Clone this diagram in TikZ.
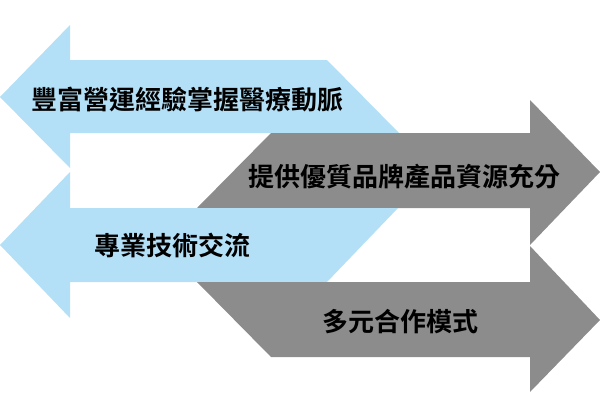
\documentclass[tikz,border=0pt]{standalone}
\usepackage{fontspec}
\newfontfamily\cjk{Noto Sans CJK TC}[BoldFont={Noto Sans CJK TC Bold}]
\definecolor{lblue}{HTML}{B3E0F7}
\definecolor{dgray}{HTML}{8C8C8C}
\begin{document}
\begin{tikzpicture}[x=1pt,y=-1pt,
  lab/.style={font=\cjk\bfseries\fontsize{26}{30}\selectfont, inner sep=0pt, text=black}]
\useasboundingbox (0,0) rectangle (600,400);
% blue arrow 1
\fill[lblue] (0,97) -- (70,25) -- (70,60) -- (327,60) -- (399,133) -- (70,133) -- (70,168) -- cycle;
% gray arrow 2
\fill[dgray] (271,133) -- (530,133) -- (530,100) -- (600,172) -- (530,245) -- (530,208) -- (197,208) -- cycle;
% blue arrow 3
\fill[lblue] (0,245) -- (70,172) -- (70,208) -- (398,208) -- (327,282) -- (70,282) -- (70,318) -- cycle;
% gray arrow 4
\fill[dgray] (197,282) -- (530,282) -- (530,246) -- (600,320) -- (530,392) -- (530,357) -- (271,357) -- cycle;
\node[lab] (t1) at (187,100) {豐富營運經驗掌握醫療動脈};
\node[lab] (t2) at (404,177) {提供優質品牌產品資源充分};
\node[lab] (t3) at (172,245) {專業技術交流};
\node[lab] (t4) at (400,322) {多元合作模式};
\end{tikzpicture}
\end{document}
